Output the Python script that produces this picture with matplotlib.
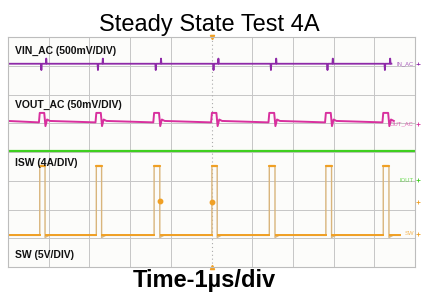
import matplotlib
matplotlib.use("Agg")
import matplotlib.pyplot as plt

plt.rcParams['font.family'] = ['Liberation Sans', 'DejaVu Sans']

# scope screen in divisions: 10 across, 8 high
pulse_rise = [0.78, 2.17, 3.59, 5.01, 6.42, 7.81, 9.22]
pulse_fall = [0.91, 2.30, 3.73, 5.14, 6.56, 7.95, 9.36]
vin_end = 9.42
vout_end = 9.33
sw_end = 9.63

vin_level = 7.07
vin_spike_dn = 6.85
vin_spike_up = 7.25
vout_level = 5.08
vout_bump = 5.36
vout_dip = 4.90
iout_level = 4.03
sw_high = 3.52
sw_low = 1.10
sw_dip = 1.03

dot_x = [3.73, 5.01]
dot_y = [2.29, 2.26]

channel_labels = ["VIN_AC (500mV/DIV)", "VOUT_AC (50mV/DIV)", "ISW (4A/DIV)", "SW (5V/DIV)"]
label_y = [7.52, 5.65, 3.6, 0.43]
tag_text = ["IN_AC", "OUT_AC", "IOUT", "SW"]
tag_y = [7.07, 4.98, 3.02, 1.15]
marker_y = [7.07, 4.98, 3.02, 2.26, 1.15]

c_vin = "#8e2aa8"
c_vout = "#d8309e"
c_iout = "#3fcf1f"
c_sw = "#f0a024"
c_edge = "#d9b57c"


def build_vin():
    xs, ys = [0.0], [vin_level]
    for r, f in zip(pulse_rise, pulse_fall):
        xs += [r + 0.03, r + 0.04, r + 0.05, f + 0.02, f + 0.03, f + 0.04]
        ys += [vin_level, vin_spike_dn, vin_level, vin_level, vin_spike_up, vin_level]
    xs.append(vin_end)
    ys.append(vin_level)
    return xs, ys


def build_vout():
    xs, ys = [0.0], [vout_level]
    for r, f in zip(pulse_rise, pulse_fall):
        xs += [r - 0.02, r, f - 0.02, f + 0.01, f + 0.05, f + 0.12]
        ys += [vout_level - 0.05, vout_bump, vout_bump, vout_dip, vout_level + 0.05, vout_level]
    return xs, ys


def build_sw():
    xs, ys = [0.0], [sw_low]
    for r, f in zip(pulse_rise, pulse_fall):
        xs += [r, r, f, f, f + 0.1]
        ys += [sw_low, sw_high, sw_high, sw_dip, sw_low]
    xs.append(sw_end)
    ys.append(sw_low)
    return xs, ys


fig = plt.figure(figsize=(4.22, 2.93), dpi=100)
ax = fig.add_axes([8 / 422, 26 / 293, 407 / 422, 230 / 293])
ax.set_xlim(0, 10)
ax.set_ylim(0, 8)
ax.set_facecolor("#fcfcfa")

for i in range(1, 10):
    if i != 5:
        ax.axvline(i, color="#c6c6c6", lw=0.7, zorder=0)
for j in range(1, 8):
    ax.axhline(j, color="#c6c6c6", lw=0.7, zorder=0)
ax.axvline(5, color="#aaaaaa", lw=0.8, ls=(0, (1, 2.5)), zorder=0)
for s in ax.spines.values():
    s.set_color("#bdbdbd")
    s.set_linewidth(0.8)
ax.set_xticks([])
ax.set_yticks([])

x, y = build_vin()
ax.plot(x, y, color=c_vin, lw=1.3)
x, y = build_vout()
ax.plot(x, y, color=c_vout, lw=1.4)
ax.plot([0, 10], [iout_level, iout_level], color=c_iout, lw=1.6)

x, y = build_sw()
ax.plot(x, y, color=c_edge, lw=1.0)
for r, f in zip(pulse_rise, pulse_fall):
    ax.plot([r, f], [sw_high, sw_high], color=c_sw, lw=1.6, solid_capstyle="round")
starts = [0.0] + [f + 0.02 for f in pulse_fall]
ends = pulse_rise + [sw_end]
for a, b in zip(starts, ends):
    ax.plot([a, b], [sw_low, sw_low], color=c_sw, lw=1.4)

ax.plot(dot_x, dot_y, "o", color=c_sw, ms=3.2, zorder=5)
ax.plot([5], [8], "v", color=c_sw, ms=3, clip_on=False)
ax.plot([5], [0], "^", color=c_sw, ms=3, clip_on=False)

for txt, yy in zip(channel_labels, label_y):
    ax.text(0.17, yy, txt, fontsize=7.5, fontweight="bold", color="#111111",
            va="center", ha="left")

tag_col = [c_vin, c_vout, c_iout, c_sw]
for t, yy, c in zip(tag_text, tag_y, tag_col):
    ax.text(9.97, yy, t, fontsize=4.2, color=c, alpha=0.75, va="center", ha="right")
marker_col = [c_vin, c_vout, c_iout, c_sw, c_sw]
ax.scatter([10.07] * len(marker_y), marker_y, marker="+", s=6, linewidths=0.6,
           c=marker_col, clip_on=False)

fig.text(0.497, 262 / 293, "Steady State Test 4A", fontsize=17, ha="center",
         va="baseline")
fig.text(0.484, 6 / 293, "Time-1\u00b5s/div", fontsize=17, fontweight="bold",
         ha="center", va="baseline")

fig.savefig("out.png", dpi=100)
